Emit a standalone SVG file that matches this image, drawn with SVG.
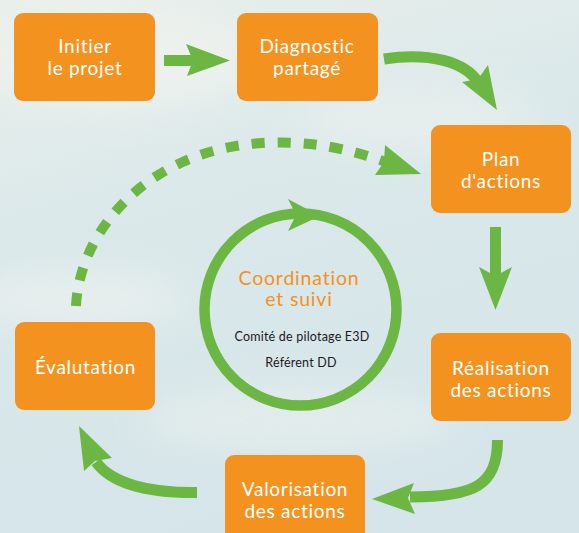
<svg xmlns="http://www.w3.org/2000/svg" width="579" height="533" viewBox="0 0 579 533">
  <defs>
    <linearGradient id="bg" x1="0" y1="0" x2="0.3" y2="1">
      <stop offset="0" stop-color="#e9efeb"/>
      <stop offset="0.45" stop-color="#dae8ea"/>
      <stop offset="1" stop-color="#d5e5e9"/>
    </linearGradient>
    <filter id="blur" x="-50%" y="-50%" width="200%" height="200%">
      <feGaussianBlur stdDeviation="18"/>
    </filter>
    <style>
      .box { fill: #f3921f; }
      .lbl { font-family: Lato, "Liberation Sans", sans-serif; font-size: 19px; letter-spacing: 0.7px; fill: #ffffff; text-anchor: middle; }
      .shaft { fill: none; stroke: #6cb643; stroke-width: 11; }
      .head { fill: #6cb643; }
      .dash { fill: none; stroke: #6cb643; stroke-width: 10; stroke-dasharray: 13 13; }
      .title { font-family: Lato, "Liberation Sans", sans-serif; font-size: 19.5px; letter-spacing: 0.8px; fill: #f3921f; text-anchor: middle; }
      .small { font-family: Lato, "Liberation Sans", sans-serif; font-size: 12.5px; letter-spacing: 0.2px; fill: #1a1a1a; text-anchor: middle; }
    </style>
  </defs>

  <rect width="579" height="533" fill="url(#bg)"/>
  <g filter="url(#blur)" opacity="0.55">
    <ellipse cx="120" cy="60" rx="140" ry="50" fill="#f4f5f0"/>
    <ellipse cx="420" cy="120" rx="120" ry="35" fill="#eef2ee"/>
    <ellipse cx="80" cy="300" rx="110" ry="30" fill="#f2f4f0"/>
    <ellipse cx="300" cy="420" rx="160" ry="30" fill="#eef2ef"/>
  </g>

  <g id="connectors">
    <path class="shaft" d="M164 60.5 L194 60.5"/>
    <polygon class="head" points="186,44 230,60.5 187,76 193,60.5"/>

    <path class="shaft" d="M384 59 C430 52 465 62 478 82"/>
    <polygon class="head" points="488,65 497,110 462,82 478,79"/>

    <path class="shaft" d="M495.5 227 L495.5 278"/>
    <polygon class="head" points="479,267 495.5,310 512,267 495.5,276"/>

    <path class="shaft" d="M497.5 440 C497.5 485 475 497 410 497"/>
    <polygon class="head" points="414,483 372,499 415,514 408,498"/>

    <path class="shaft" d="M197 492.5 C150 493 112 484 96 462"/>
    <polygon class="head" points="112,458 79,426 84,471 95,461"/>

    <path class="dash" d="M76 306 C80 228 150 150 262 143 C312 140 352 150 386 162"/>
    <polygon class="head" points="385,145 421,174 375,175 384,162"/>
  </g>

  <g id="coordination">
    <circle cx="300.5" cy="309.5" r="96" fill="none" stroke="#6cb643" stroke-width="10.5"/>
    <polygon class="head" points="288,199 320,216 288,231 296,215"/>
    <text class="title" x="299" y="285">Coordination</text>
    <text class="title" x="299" y="306">et suivi</text>
    <text class="small" x="302" y="341">Comité de pilotage E3D</text>
    <text class="small" x="301" y="367">Référent DD</text>
  </g>

  <g id="initier">
    <rect class="box" x="14" y="13" width="141" height="88" rx="9"/>
    <text class="lbl" x="85" y="53">Initier</text>
    <text class="lbl" x="85" y="74.5">le projet</text>
  </g>
  <g id="diagnostic">
    <rect class="box" x="237" y="13" width="141" height="88" rx="9"/>
    <text class="lbl" x="307" y="53">Diagnostic</text>
    <text class="lbl" x="307" y="74.5">partagé</text>
  </g>
  <g id="plan">
    <rect class="box" x="431" y="125" width="140" height="88" rx="9"/>
    <text class="lbl" x="501" y="166">Plan</text>
    <text class="lbl" x="501" y="188">d'actions</text>
  </g>
  <g id="realisation">
    <rect class="box" x="431" y="333" width="140" height="88" rx="9"/>
    <text class="lbl" x="501" y="374.5">Réalisation</text>
    <text class="lbl" x="501" y="396.5">des actions</text>
  </g>
  <g id="valorisation">
    <rect class="box" x="225" y="455" width="140" height="90" rx="9"/>
    <text class="lbl" x="295" y="495.5">Valorisation</text>
    <text class="lbl" x="295" y="517.5">des actions</text>
  </g>
  <g id="evaluation">
    <rect class="box" x="15" y="322" width="140" height="88" rx="9"/>
    <text class="lbl" x="85.5" y="374">Évalutation</text>
  </g>
</svg>
